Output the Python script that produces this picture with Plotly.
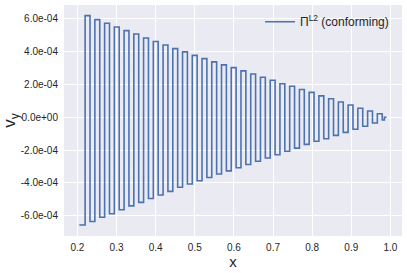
import plotly.graph_objects as go

# ---- data ----
x_start = 0.205          # left end of the first (negative) plateau
x_first_jump = 0.2198    # first up-jump
half_period = 0.012445   # width of one plateau
x_end = 0.990

# plateau values (units 1e-4), alternating negative / positive
neg_vals = [-6.57, -6.36, -6.10, -5.88, -5.64, -5.40, -5.19, -4.95, -4.74, -4.52,
            -4.27, -4.07, -3.87, -3.67, -3.46, -3.27, -3.08, -2.88, -2.68, -2.48,
            -2.28, -2.07, -1.88, -1.65, -1.46, -1.31, -1.10, -0.92, -0.73, -0.55,
            -0.35, -0.16]
pos_vals = [6.20, 5.96, 5.74, 5.51, 5.29, 5.08, 4.84, 4.62, 4.41, 4.19,
            3.99, 3.78, 3.58, 3.38, 3.20, 3.03, 2.83, 2.64, 2.44, 2.26,
            2.05, 1.89, 1.70, 1.52, 1.31, 1.13, 0.93, 0.75, 0.55, 0.38, 0.22]
final_val = 0.0

x_ticks = [0.2, 0.3, 0.4, 0.5, 0.6, 0.7, 0.8, 0.9, 1.0]
x_ticklabels = ["0.2", "0.3", "0.4", "0.5", "0.6", "0.7", "0.8", "0.9", "1.0"]
y_ticks = [-6e-4, -4e-4, -2e-4, 0.0, 2e-4, 4e-4, 6e-4]
y_ticklabels = ["-6.0e-04", "-4.0e-04", "-2.0e-04", "0.0e+00", "2.0e-04", "4.0e-04", "6.0e-04"]

series_name = "Π<sup>L2</sup> (conforming)"

# ---- build step polyline (hv) ----
xs = [x_start]
ys = [neg_vals[0] * 1e-4]
t = x_first_jump
for k, p in enumerate(pos_vals):
    xs.append(t); ys.append(p * 1e-4)
    t += half_period
    xs.append(t); ys.append(neg_vals[k + 1] * 1e-4)
    t += half_period
tail_start = xs[-1] + (x_end - xs[-1]) / 2
xs.append(tail_start); ys.append(final_val * 1e-4)
xs.append(x_end); ys.append(final_val * 1e-4)

fig = go.Figure()
fig.add_trace(go.Scatter(
    x=xs, y=ys, mode="lines", line_shape="hv",
    line=dict(color="#4C72B0", width=1.6),
    name=series_name, showlegend=True,
))

font_family = "Liberation Sans, Arial, sans-serif"
fig.update_layout(
    width=407, height=273,
    margin=dict(l=64, r=5, t=5, b=37),
    paper_bgcolor="white", plot_bgcolor="#EAEAF2",
    font=dict(family=font_family, color="#262626", size=10),
    showlegend=True,
    legend=dict(x=0.58, y=0.99, xanchor="left", yanchor="top",
                bgcolor="rgba(0,0,0,0)", font=dict(size=12, color="#262626")),
    xaxis=dict(range=[0.1658, 1.0295], tickvals=x_ticks, ticktext=x_ticklabels,
               showgrid=True, gridcolor="white", gridwidth=1.2, zeroline=False,
               showline=False, ticks="", ticklabelstandoff=4,
               title=dict(text="x", font=dict(size=15), standoff=2)),
    yaxis=dict(range=[-7.24e-4, 6.85e-4], tickvals=y_ticks, ticktext=y_ticklabels,
               showgrid=True, gridcolor="white", gridwidth=1.2, zeroline=False,
               showline=False, ticks="", ticklabelstandoff=5,
               title=dict(text="v<sub>y</sub>", font=dict(size=17), standoff=4)),
)

fig.write_html("out.html", config={"displayModeBar": False},
               post_script="document.body.style.margin='0';document.body.style.padding='0';")
